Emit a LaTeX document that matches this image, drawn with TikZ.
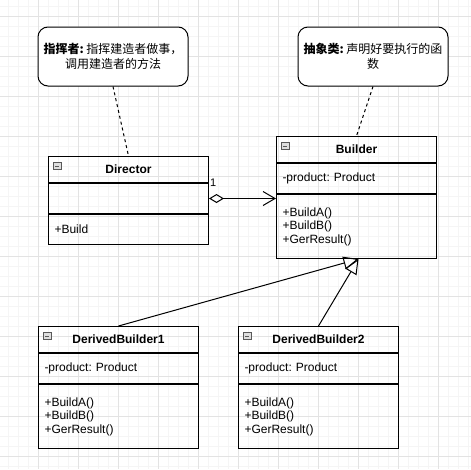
\documentclass[tikz,border=0pt]{standalone}
\usepackage{fontspec}
\setmainfont{Liberation Sans}
\newfontfamily\cjk{Noto Sans CJK SC}
\usetikzlibrary{arrows.meta}
\frenchspacing

\tikzset{
  gridminor/.style={draw=gray!8, line width=0.8pt},
  gridmajor/.style={draw=gray!22, line width=0.8pt},
  umlhead/.style={draw, line width=1pt, minimum width=160pt, minimum height=26pt,
    inner sep=0pt, anchor=north west, font=\fontsize{12}{14}\selectfont\bfseries},
  umlpart/.style={draw, line width=1pt, minimum width=160pt, text width=148pt,
    inner sep=0pt, align=left, anchor=north west, font=\fontsize{12}{13.5}\selectfont},
  minusbox/.style={draw=gray!70!black, fill=gray!25, minimum width=8pt, minimum height=7pt,
    inner sep=0pt, line width=0.6pt,
    path picture={\draw[line width=0.8pt] ([xshift=1.8pt]path picture bounding box.west)
      -- ([xshift=-1.8pt]path picture bounding box.east);}},
  note/.style={draw, line width=1pt, fill=white, rounded corners=10pt, minimum width=150pt,
    minimum height=59pt, align=center, inner sep=0pt, font=\cjk\fontsize{12}{15}\selectfont},
  notelink/.style={line width=1pt, dash pattern=on 3pt off 3pt},
  inherit/.style={line width=1pt, -{Triangle[open, length=15pt, width=13pt]}},
  aggreg/.style={line width=1pt, {Diamond[open, length=15pt, width=9pt]}-{Straight Barb[length=12pt, width=14pt]}}
}

\begin{document}
\begin{tikzpicture}[x=1pt, y=-1pt]
  \useasboundingbox (0,0) rectangle (471,469);

  % grid
  \foreach \x in {8,18,...,468} \draw[gridminor] (\x,0) -- (\x,469);
  \foreach \y in {6,16,...,466} \draw[gridminor] (0,\y) -- (471,\y);
  \foreach \x in {38,78,...,438} \draw[gridmajor] (\x,0) -- (\x,469);
  \foreach \y in {16,56,...,456} \draw[gridmajor] (0,\y) -- (471,\y);

  % Define the nodes
  \node[note] (dirnote) at (113,56.5) {{\bfseries 指挥者:} 指挥建造者做事，\\调用建造者的方法};
  \node[note] (bldnote) at (373,56.5) {{\bfseries 抽象类:} 声明好要执行的函\\数};

  \node[umlhead] (dirhead) at (48,156) {Director};
  \node[umlpart, minimum height=30pt] (dirattr) at (dirhead.south west) {};
  \node[umlpart, minimum height=30pt] (dirmeth) at (dirattr.south west) {+Build};
  \node[minusbox] (diricon) at ([xshift=9pt, yshift=-10pt]dirhead.north west) {};

  \node[umlhead] (bldhead) at (276,136) {Builder};
  \node[umlpart, minimum height=30pt] (bldattr) at (bldhead.south west) {-product: Product};
  \node[umlpart, minimum height=64pt] (bldmeth) at (bldattr.south west) {+BuildA()\\+BuildB()\\+GerResult()};
  \node[minusbox] (bldicon) at ([xshift=9pt, yshift=-10pt]bldhead.north west) {};

  \node[umlhead] (dbohead) at (38,326) {DerivedBuilder1};
  \node[umlpart, minimum height=30pt] (dboattr) at (dbohead.south west) {-product: Product};
  \node[umlpart, minimum height=64pt] (dbometh) at (dboattr.south west) {+BuildA()\\+BuildB()\\+GerResult()};
  \node[minusbox] (dboicon) at ([xshift=9pt, yshift=-10pt]dbohead.north west) {};

  \node[umlhead] (dbthead) at (238,326) {DerivedBuilder2};
  \node[umlpart, minimum height=30pt] (dbtattr) at (dbthead.south west) {-product: Product};
  \node[umlpart, minimum height=64pt] (dbtmeth) at (dbtattr.south west) {+BuildA()\\+BuildB()\\+GerResult()};
  \node[minusbox] (dbticon) at ([xshift=9pt, yshift=-10pt]dbthead.north west) {};

  \coordinate (bldtip) at ([xshift=2pt]bldmeth.south);
  \coordinate (bldleft) at (bldmeth.west |- dirattr.east);

  % Draw the edges
  \draw[notelink] (dirnote.south) -- (dirhead.north);
  \draw[notelink] (bldnote.south) -- (bldhead.north);
  \draw[aggreg] (dirattr.east) -- (bldleft);
  \node[anchor=west, inner sep=0pt, font=\fontsize{11}{13}\selectfont] (mult) at (210,183) {1};
  \draw[inherit] (dbohead.north) -- (bldtip);
  \draw[inherit] (dbthead.north) -- (bldtip);
\end{tikzpicture}
\end{document}
